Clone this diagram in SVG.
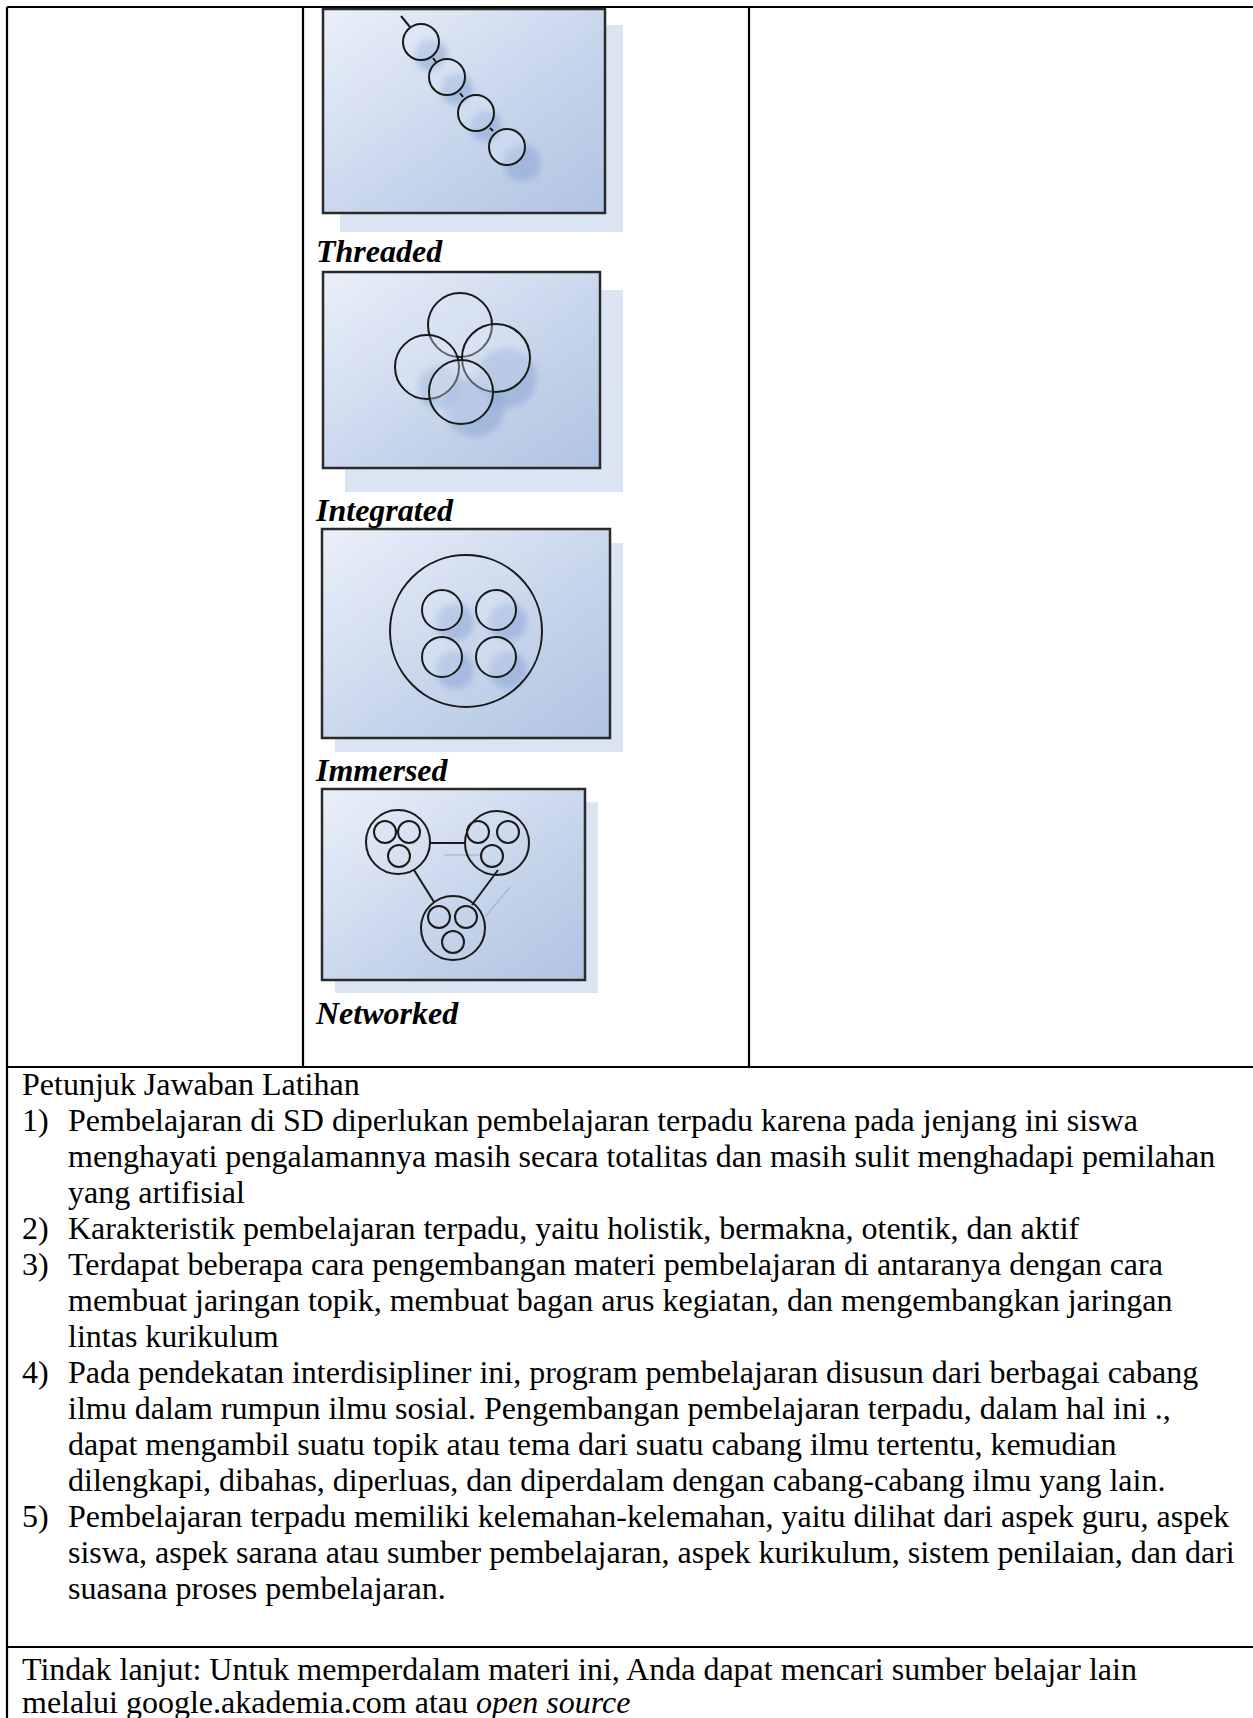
<svg xmlns="http://www.w3.org/2000/svg" width="1253" height="1718" viewBox="0 0 1253 1718">
<style>
.tl{stroke:#000;stroke-width:2.2;fill:none}
.tx{font-family:"Liberation Serif","Times New Roman",serif;font-size:32px;fill:#000}
.lbl{font-family:"Liberation Serif","Times New Roman",serif;font-size:32px;font-weight:bold;font-style:italic;fill:#000}
.frame{fill:url(#bg);stroke:#2a2a2a;stroke-width:2.5}
.shadow{fill:#dbe4f2}
.c{fill:#dfe8f6;fill-opacity:0.35;stroke:#1a1a1a;stroke-width:2}
.cn{fill:none;stroke:#1a1a1a;stroke-width:2}
.blob{fill:#8fa9d6;opacity:0.6;filter:url(#blur)}
</style>
<defs>
<linearGradient id="bg" x1="0" y1="0" x2="1" y2="1">
<stop offset="0" stop-color="#eaf0f9"/>
<stop offset="0.55" stop-color="#c8d6ec"/>
<stop offset="1" stop-color="#b0c3e2"/>
</linearGradient>
<filter id="blur" x="-50%" y="-50%" width="200%" height="200%"><feGaussianBlur stdDeviation="3"/></filter>
</defs>
<rect width="1253" height="1718" fill="#fff"/>
<g id="table">
<line class="tl" x1="7" y1="7" x2="1253" y2="7"/>
<line class="tl" x1="7" y1="7" x2="7" y2="1718"/>
<line class="tl" x1="303" y1="7" x2="303" y2="1067"/>
<line class="tl" x1="749" y1="7" x2="749" y2="1067"/>
<line class="tl" x1="7" y1="1067" x2="1253" y2="1067"/>
<line class="tl" x1="7" y1="1647" x2="1253" y2="1647"/>
</g>
<g id="threaded">
<rect class="shadow" x="340" y="25" width="283" height="207"/>
<rect class="frame" x="323" y="9" width="282" height="204"/>
<circle class="blob" cx="431" cy="55" r="16"/>
<circle class="blob" cx="457" cy="89" r="16"/>
<circle class="blob" cx="486" cy="126" r="16"/>
<circle class="blob" cx="522" cy="163" r="19"/>
<line class="cn" x1="401" y1="16" x2="410" y2="27"/>
<line class="cn" x1="433" y1="58" x2="436" y2="62"/>
<line class="cn" x1="460" y1="93" x2="463" y2="97"/>
<line class="cn" x1="490" y1="128" x2="493" y2="131"/>
<circle class="c" cx="421" cy="42" r="18"/>
<circle class="c" cx="447" cy="77" r="18"/>
<circle class="c" cx="476" cy="113" r="18"/>
<circle class="c" cx="507" cy="147" r="18"/>
</g>
<text class="lbl" x="316" y="262">Threaded</text>
<g id="integrated">
<rect class="shadow" x="345" y="290" width="278" height="202"/>
<rect class="frame" x="323" y="272" width="277" height="196"/>
<circle class="blob" cx="507" cy="378" r="30"/>
<circle class="blob" cx="475" cy="407" r="30"/>
<circle class="blob" cx="440" cy="387" r="22"/>
<circle class="c" cx="460" cy="325" r="32"/>
<circle class="c" cx="427" cy="367" r="32"/>
<circle class="c" cx="496" cy="358" r="34"/>
<circle class="c" cx="461" cy="392" r="32"/>
</g>
<text class="lbl" x="316" y="521">Integrated</text>
<g id="immersed">
<rect class="shadow" x="335" y="543" width="288" height="209"/>
<rect class="frame" x="322" y="529" width="288" height="209"/>
<circle class="blob" cx="455" cy="622" r="19"/>
<circle class="blob" cx="508" cy="622" r="19"/>
<circle class="blob" cx="455" cy="670" r="19"/>
<circle class="blob" cx="508" cy="670" r="19"/>
<circle class="cn" cx="466" cy="631" r="76"/>
<circle class="c" cx="442" cy="610" r="20"/>
<circle class="c" cx="496" cy="610" r="20"/>
<circle class="c" cx="442" cy="657" r="20"/>
<circle class="c" cx="496" cy="657" r="20"/>
</g>
<text class="lbl" x="316" y="781">Immersed</text>
<g id="networked">
<rect class="shadow" x="335" y="802" width="263" height="191"/>
<rect class="frame" x="322" y="789" width="263" height="191"/>
<line x1="444" y1="855" x2="480" y2="855" stroke="#8fa9d6" stroke-width="1.5" opacity="0.6"/>
<line x1="510" y1="887" x2="485" y2="917" stroke="#8fa9d6" stroke-width="1.5" opacity="0.6"/>
<line class="cn" x1="430" y1="843" x2="465" y2="843"/>
<line class="cn" x1="414" y1="870" x2="434" y2="902"/>
<line class="cn" x1="498" y1="870" x2="472" y2="905"/>
<circle class="cn" cx="398" cy="842" r="32"/>
<circle class="cn" cx="385" cy="832" r="11"/>
<circle class="cn" cx="409" cy="832" r="11"/>
<circle class="cn" cx="399" cy="856" r="11"/>
<circle class="cn" cx="497" cy="843" r="32"/>
<circle class="cn" cx="478" cy="832" r="11"/>
<circle class="cn" cx="508" cy="832" r="11"/>
<circle class="cn" cx="492" cy="856" r="11"/>
<circle class="cn" cx="453" cy="928" r="32"/>
<circle class="cn" cx="439" cy="917" r="11"/>
<circle class="cn" cx="466" cy="917" r="11"/>
<circle class="cn" cx="453" cy="942" r="11"/>
</g>
<text class="lbl" x="316" y="1024">Networked</text>
<g id="answers">
<text class="tx" x="22" y="1095">Petunjuk Jawaban Latihan</text>
<text class="tx" x="22" y="1131">1)</text>
<text class="tx" x="68" y="1131">Pembelajaran di SD diperlukan pembelajaran terpadu karena pada jenjang ini siswa</text>
<text class="tx" x="68" y="1167">menghayati pengalamannya masih secara totalitas dan masih sulit menghadapi pemilahan</text>
<text class="tx" x="68" y="1203">yang artifisial</text>
<text class="tx" x="22" y="1239">2)</text>
<text class="tx" x="68" y="1239">Karakteristik pembelajaran terpadu, yaitu holistik, bermakna, otentik, dan aktif</text>
<text class="tx" x="22" y="1275">3)</text>
<text class="tx" x="68" y="1275">Terdapat beberapa cara pengembangan materi pembelajaran di antaranya dengan cara</text>
<text class="tx" x="68" y="1311">membuat jaringan topik, membuat bagan arus kegiatan, dan mengembangkan jaringan</text>
<text class="tx" x="68" y="1347">lintas kurikulum</text>
<text class="tx" x="22" y="1383">4)</text>
<text class="tx" x="68" y="1383">Pada pendekatan interdisipliner ini, program pembelajaran disusun dari berbagai cabang</text>
<text class="tx" x="68" y="1419">ilmu dalam rumpun ilmu sosial. Pengembangan pembelajaran terpadu, dalam hal ini .,</text>
<text class="tx" x="68" y="1455">dapat mengambil suatu topik atau tema dari suatu cabang ilmu tertentu, kemudian</text>
<text class="tx" x="68" y="1491">dilengkapi, dibahas, diperluas, dan diperdalam dengan cabang-cabang ilmu yang lain.</text>
<text class="tx" x="22" y="1527">5)</text>
<text class="tx" x="68" y="1527">Pembelajaran terpadu memiliki kelemahan-kelemahan, yaitu dilihat dari aspek guru, aspek</text>
<text class="tx" x="68" y="1563">siswa, aspek sarana atau sumber pembelajaran, aspek kurikulum, sistem penilaian, dan dari</text>
<text class="tx" x="68" y="1599">suasana proses pembelajaran.</text>
</g>
<g id="followup">
<text class="tx" x="22" y="1680">Tindak lanjut: Untuk memperdalam materi ini, Anda dapat mencari sumber belajar lain</text>
<text class="tx" x="22" y="1713">melalui google.akademia.com atau <tspan font-style="italic">open source</tspan></text>
</g>
</svg>
